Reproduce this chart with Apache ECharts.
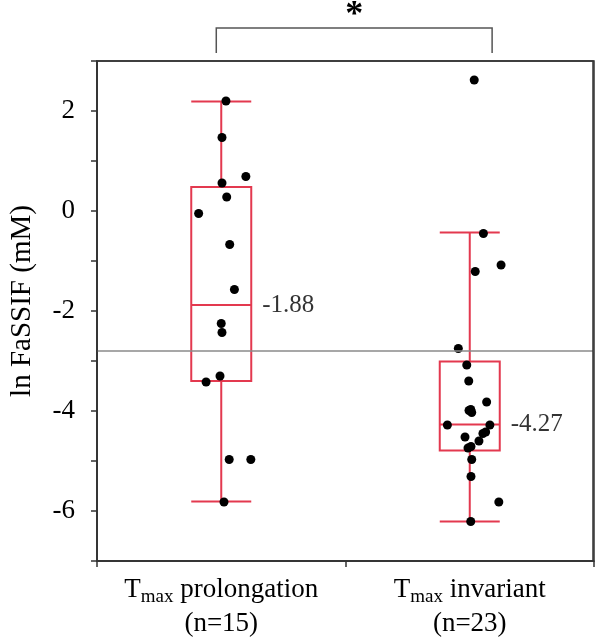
<!DOCTYPE html>
<html>
<head>
<meta charset="utf-8">
<script src="https://cdn.jsdelivr.net/npm/echarts@6/dist/echarts.min.js"></script>
<style>
html,body{margin:0;padding:0;background:#fff;}
#chart{width:596px;height:637px;}
</style>
</head>
<body>
<div id="chart"></div>
<script>
// ---- data ----
const categories = ['prolongation', 'invariant'];
const groupN = [15, 23];
// boxplot stats: [lower whisker, Q1, median, Q3, upper whisker]
const boxProlongation = [-5.81, -3.40, -1.88, 0.48, 2.19];
const boxInvariant = [-6.21, -4.79, -4.27, -3.01, -0.43];
const medianLabels = ['-1.88', '-4.27'];
// individual points (ln FaSSIF) and horizontal jitter (in category units)
const prolongationValues = [2.20, 1.47, 0.69, 0.56, 0.28, -0.05, -0.67, -1.57, -2.25, -2.43, -3.30, -3.42, -4.97, -4.97, -5.82];
const prolongationJitter = [0.019, 0.003, 0.099, 0.003, 0.022, -0.091, 0.034, 0.053, 0.000, 0.003, -0.005, -0.061, 0.032, 0.119, 0.011];
const invariantValues = [2.62, -0.45, -1.08, -1.21, -2.75, -3.08, -3.40, -3.82, -3.97, -3.99, -4.03, -4.28, -4.28, -4.42, -4.45, -4.52, -4.60, -4.71, -4.74, -4.97, -5.31, -5.82, -6.21];
const invariantJitter = [0.018, 0.055, 0.126, 0.022, -0.046, -0.012, -0.004, 0.068, 0.004, -0.003, 0.008, -0.090, 0.081, 0.064, 0.053, -0.019, 0.037, 0.005, -0.007, 0.008, 0.005, 0.117, 0.004];
const referenceLine = -2.8;
const yTicks = {min: -7, max: 3, interval: 1};

const FONT = '"Liberation Serif", "DejaVu Serif", serif';
const RED = '#e3394f';
const AXIS = '#333';
const G = {left: 97, right: 2, top: 61, bottom: 76, w: 596, h: 637};

const pts = [];
prolongationValues.forEach((v, i) => pts.push([0.5 + prolongationJitter[i], v]));
invariantValues.forEach((v, i) => pts.push([1.5 + invariantJitter[i], v]));

const gx = u => G.left + u * (G.w - G.left - G.right) / 2; // bracket anchor in plot units
const xl = gx(0.48), xr = gx(1.59);

const chart = echarts.init(document.getElementById('chart'));
const option = {
  backgroundColor: '#fff',
  animation: false,
  grid: {left: G.left, right: G.right, top: G.top, bottom: G.bottom, show: true, borderColor: AXIS, borderWidth: 1.5, outerBoundsMode: 'none'},
  graphic: [{
    type: 'rect',
    shape: {x: G.left, y: G.top, width: G.w - G.left - G.right - 1, height: G.h - G.top - G.bottom},
    style: {stroke: AXIS, lineWidth: 1.5, fill: null},
    z: 20
  }, {
    type: 'polyline',
    shape: {points: [[xl, 53], [xl, 28], [xr, 28], [xr, 53]]},
    style: {stroke: '#555', lineWidth: 1.5, fill: null}
  }, {
    type: 'text',
    x: (xl + xr) / 2, y: 16,
    style: {text: '*', fontFamily: FONT, fontSize: 36, fontWeight: 'bold', fill: '#000', align: 'center', verticalAlign: 'middle'}
  }],
  xAxis: [{
    type: 'category',
    data: categories,
    boundaryGap: true,
    axisLine: {onZero: false, lineStyle: {color: AXIS, width: 1.5}},
    axisTick: {show: true, length: 6, lineStyle: {color: AXIS, width: 1.5}},
    axisLabel: {
      margin: 12,
      interval: 0,
      formatter: (v, i) => '{t|T}{s|max}{t| ' + v + '}\n{t|(n=' + groupN[i] + ')}',
      rich: {
        t: {fontFamily: FONT, fontSize: 27, color: '#000', lineHeight: 34},
        s: {fontFamily: FONT, fontSize: 19, color: '#000', lineHeight: 34, verticalAlign: 'bottom', padding: [12, 0, 0, 0]}
      }
    }
  }, {
    type: 'value', min: 0, max: 2, show: false
  }],
  yAxis: {
    type: 'value',
    min: yTicks.min, max: yTicks.max, interval: yTicks.interval,
    name: 'ln FaSSIF (mM)',
    nameLocation: 'middle',
    nameGap: 60,
    nameTextStyle: {fontFamily: FONT, fontSize: 29, color: '#000', padding: [0, 0, 0, 20]},
    axisLine: {show: true, onZero: false, lineStyle: {color: AXIS, width: 1.5}},
    axisTick: {show: true, length: 6, lineStyle: {color: AXIS, width: 1.5}},
    splitLine: {show: false},
    axisLabel: {
      margin: 22,
      fontFamily: FONT, fontSize: 27, color: '#000',
      formatter: v => (Math.round(v) % 2 === 0 ? String(v) : '')
    }
  },
  series: [{
    type: 'boxplot',
    xAxisIndex: 0,
    boxWidth: [60, 60],
    data: [boxProlongation, boxInvariant],
    itemStyle: {color: 'rgba(0,0,0,0)', borderColor: RED, borderWidth: 2},
    z: 2
  }, {
    type: 'scatter',
    xAxisIndex: 1,
    data: pts,
    symbolSize: 9,
    itemStyle: {color: '#000', opacity: 1},
    z: 3,
    markLine: {
      silent: true,
      symbol: ['none', 'none'],
      label: {show: false},
      lineStyle: {color: '#8a8a8a', width: 1.5, type: 'solid'},
      data: [{yAxis: referenceLine}]
    }
  }, {
    type: 'scatter',
    xAxisIndex: 1,
    symbolSize: 0,
    data: [[0.5, boxProlongation[2]], [1.5, boxInvariant[2]]],
    label: {
      show: true, position: 'right', distance: 41,
      formatter: p => medianLabels[p.dataIndex],
      fontFamily: FONT, fontSize: 25, color: '#000'
    },
    z: 4
  }]
};
chart.setOption(option);
</script>
</body>
</html>
